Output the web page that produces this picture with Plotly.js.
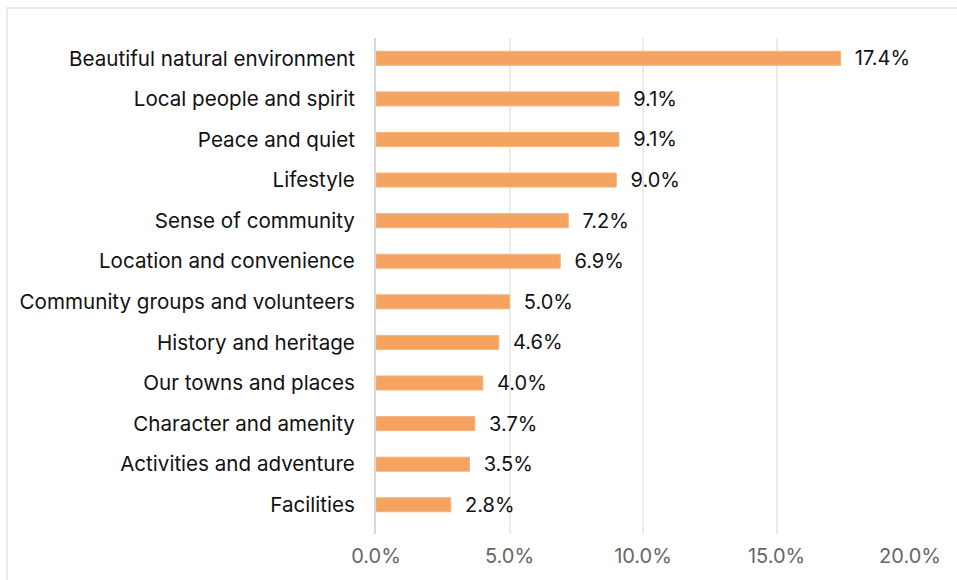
<!DOCTYPE html>
<html>
<head>
<meta charset="utf-8">
<script src="https://cdn.plot.ly/plotly-3.0.1.min.js"></script>
<style>
  html, body { margin: 0; padding: 0; background: #ffffff; overflow: hidden; }
  #chart { position: absolute; left: 0; top: 0; width: 957px; height: 580px; }
  #frame { position: absolute; left: 6px; top: 7px; width: 1200px; height: 1200px;
           border: 2px solid #EEEBE2; pointer-events: none; }
</style>
</head>
<body>
<div id="chart"></div>
<div id="frame"></div>
<script>
const categories = [
  "Beautiful natural environment",
  "Local people and spirit",
  "Peace and quiet",
  "Lifestyle",
  "Sense of community",
  "Location and convenience",
  "Community groups and volunteers",
  "History and heritage",
  "Our towns and places",
  "Character and amenity",
  "Activities and adventure",
  "Facilities"
];
const shares = [0.174, 0.091, 0.091, 0.090, 0.072, 0.069, 0.050, 0.046, 0.040, 0.037, 0.035, 0.028];
const tickValues = [0, 0.05, 0.10, 0.15, 0.20];
const tickLabels = ["0.0%", "5.0%", "10.0%", "15.0%", "20.0%"];

const fontFamily = "Inter, Roboto, 'Liberation Sans', sans-serif";

const trace = {
  type: "bar",
  orientation: "h",
  x: shares,
  y: categories,
  marker: { color: "#F4A460", line: { color: "#F6B27A", width: 1 } },
  width: 0.345,
  texttemplate: "\u00a0\u00a0%{x:.1%}",
  textposition: "outside",
  constraintext: "none",
  cliponaxis: false,
  textfont: { family: fontFamily, size: 20, color: "#111111" },
  hoverinfo: "none"
};

const layout = {
  width: 957,
  height: 580,
  margin: { l: 376, r: 47, t: 38, b: 46, pad: 0 },
  paper_bgcolor: "rgba(0,0,0,0)",
  plot_bgcolor: "#ffffff",
  showlegend: false,
  font: { family: fontFamily, size: 20, color: "#111111" },
  xaxis: {
    range: [0, 0.2],
    tickvals: tickValues,
    ticktext: tickLabels,
    showgrid: true,
    gridcolor: "#EEEBE0",
    gridwidth: 2,
    zeroline: false,
    showline: false,
    ticks: "",
    ticklabelstandoff: 8,
    tickfont: { family: fontFamily, size: 20, color: "#666666" },
    fixedrange: true
  },
  yaxis: {
    type: "category",
    range: [11.72, -0.5],
    showgrid: false,
    zeroline: false,
    showline: true,
    linecolor: "#D9D9D9",
    linewidth: 2,
    ticks: "",
    ticklabelstandoff: 15,
    tickfont: { family: fontFamily, size: 20.6, color: "#111111" },
    fixedrange: true
  }
};

Plotly.newPlot("chart", [trace], layout, { displayModeBar: false, staticPlot: true });
</script>
</body>
</html>
